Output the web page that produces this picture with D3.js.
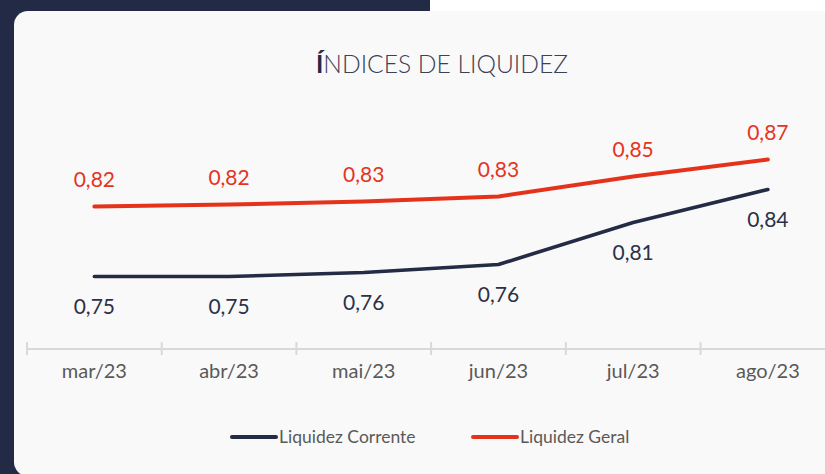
<!DOCTYPE html>
<html>
<head>
<meta charset="utf-8">
<script src="https://cdn.jsdelivr.net/npm/d3@7"></script>
<style>
  body { margin: 0; background: #222a45; }
  svg { display: block; }
  text { font-family: Lato, "Noto Sans", sans-serif; }
</style>
</head>
<body>
<svg id="chart" width="825" height="474"></svg>
<script>
// data
const months = ["mar/23", "abr/23", "mai/23", "jun/23", "jul/23", "ago/23"];
const corrente = [0.752, 0.752, 0.756, 0.764, 0.806, 0.839]; // Liquidez Corrente
const geral = [0.822, 0.824, 0.827, 0.832, 0.852, 0.869];    // Liquidez Geral
const seriesNames = ["Liquidez Corrente", "Liquidez Geral"];
const colors = ["#232b45", "#e5321b"];

const svg = d3.select("#chart"),
  width = +svg.attr("width"),
  height = +svg.attr("height");

// page background + card
svg.append("rect").attr("width", width).attr("height", height).attr("fill", "#222a45");
svg.append("rect").attr("x", 430).attr("width", width - 430).attr("height", 12).attr("fill", "#ffffff");
svg.append("rect")
  .attr("x", 14).attr("y", 11)
  .attr("width", 840).attr("height", 465)
  .attr("rx", 14)
  .attr("fill", "#f9f9f9");

// title
const title = svg.append("text")
  .attr("x", 442).attr("y", 73)
  .attr("text-anchor", "middle")
  .attr("font-size", 25)
  .attr("font-weight", 300)
  .attr("fill", "#3b4155")
  .attr("textLength", 252)
  .attr("lengthAdjust", "spacingAndGlyphs");
title.append("tspan").attr("font-weight", 700).attr("fill", "#222a45").text("Í");
title.append("tspan").text("NDICES DE LIQUIDEZ");

// scales
const x = d3.scaleBand()
  .domain(months)
  .range([27, 27 + 134.7 * months.length]);

const y = d3.scaleLinear()
  .domain([0.7, 0.9])
  .range([328.5, 128.5]);

// x axis
const axisY = 349;
const xAxis = svg.append("g")
  .attr("transform", `translate(0,${axisY})`)
  .call(d3.axisBottom(x).tickSize(0).tickPadding(15));
xAxis.select(".domain").remove();
xAxis.append("line")
  .attr("x1", 27).attr("x2", width)
  .attr("stroke", "#d9d9d9").attr("stroke-width", 2);
xAxis.selectAll(".sep")
  .data(months)
  .join("line")
  .attr("class", "sep")
  .attr("x1", d => x(d)).attr("x2", d => x(d))
  .attr("y1", -7).attr("y2", 6)
  .attr("stroke", "#d9d9d9").attr("stroke-width", 2);
xAxis.selectAll(".tick text")
  .attr("font-size", 20)
  .attr("fill", "#595959")
  .attr("font-family", "Lato, 'Noto Sans', sans-serif");

// lines
const line = d3.line()
  .x((d, i) => x(months[i]) + x.bandwidth() / 2)
  .y(d => y(d));

[corrente, geral].forEach(function (vals, k) {
  svg.append("path")
    .datum(vals)
    .attr("d", line)
    .attr("fill", "none")
    .attr("stroke", colors[k])
    .attr("stroke-width", k === 0 ? 3.6 : 4)
    .attr("stroke-linecap", "round")
    .attr("stroke-linejoin", "round");

  // value labels: below for corrente, above for geral
  svg.append("g")
    .selectAll("text")
    .data(vals)
    .join("text")
    .attr("x", (d, i) => x(months[i]) + x.bandwidth() / 2)
    .attr("y", d => y(d) + (k === 0 ? 30 : -27))
    .attr("dy", "0.35em")
    .attr("text-anchor", "middle")
    .attr("font-size", 21)
    .attr("fill", k === 0 ? "#2b3148" : "#e5341d")
    .text(d => d.toFixed(2).replace(".", ","));
});

// legend
const legendX = [232, 473];
const legend = svg.append("g").attr("transform", "translate(0,437)");
seriesNames.forEach(function (name, k) {
  legend.append("line")
    .attr("x1", legendX[k]).attr("x2", legendX[k] + 44)
    .attr("stroke", colors[k]).attr("stroke-width", 4)
    .attr("stroke-linecap", "round");
  legend.append("text")
    .attr("x", legendX[k] + 47)
    .attr("dy", "0.35em")
    .attr("font-size", 17.5)
    .attr("fill", "#595959")
    .text(name);
});
</script>
</body>
</html>
